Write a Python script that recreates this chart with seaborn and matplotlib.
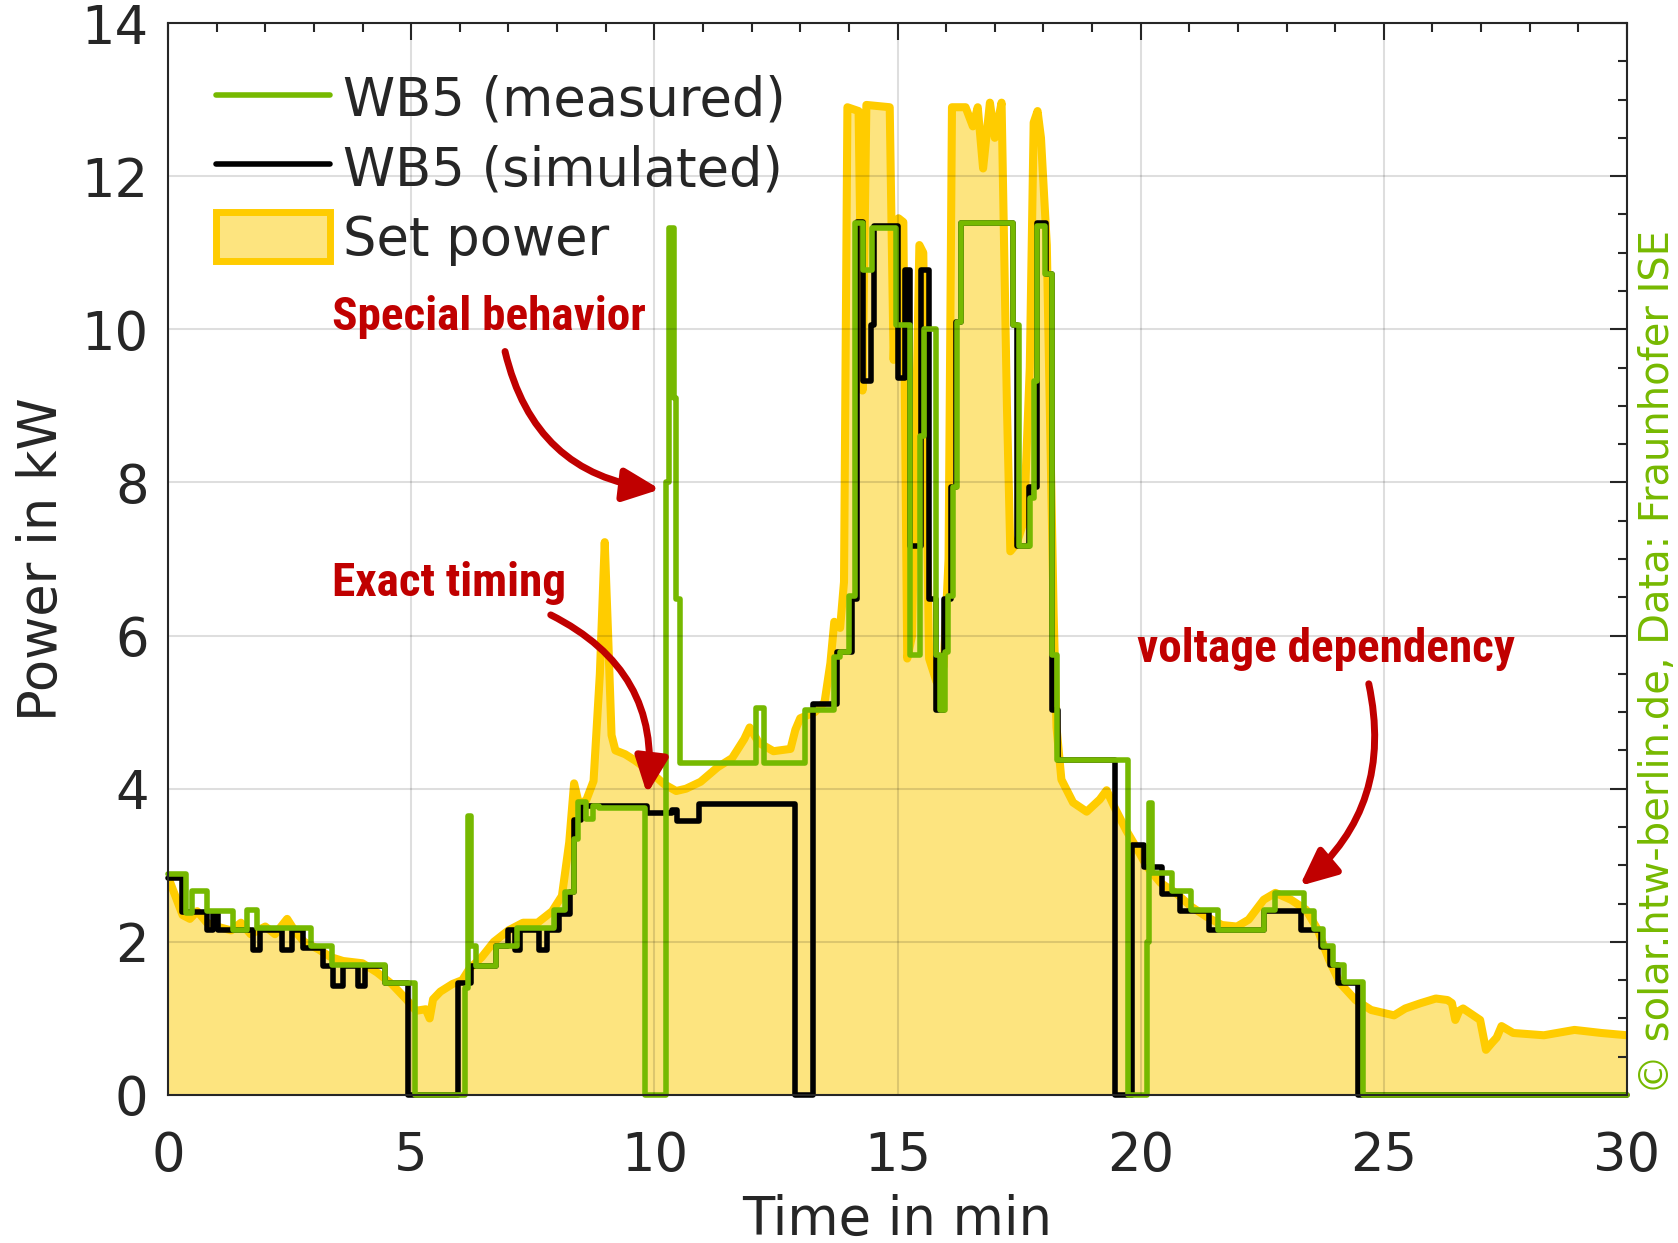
import seaborn as sns
import matplotlib.pyplot as plt
from matplotlib.lines import Line2D
from matplotlib.patches import Patch
from matplotlib.ticker import MultipleLocator

# --- values (time in min, power in kW) ---
# measured charging power, step changes
t_meas = [0.00, 0.38, 0.49, 0.80, 1.34, 1.63, 1.82, 2.95, 3.37, 4.46, 5.08,
          6.11, 6.17, 6.24, 6.34, 6.75, 7.18, 7.93, 8.17, 8.34, 8.44, 8.60,
          8.74, 8.86, 9.81, 10.25, 10.30, 10.40, 10.45, 10.53, 12.10, 12.26,
          13.10, 13.70, 13.82, 14.00, 14.12, 14.30, 14.48, 14.97, 15.25, 15.46,
          15.55, 15.80, 15.88, 15.98, 16.04, 16.14, 16.22, 16.31, 17.38, 17.50,
          17.72, 17.80, 17.86, 18.03, 18.17, 18.27, 19.74, 20.13, 20.18, 20.24,
          20.65, 21.04, 21.59, 22.53, 22.77, 23.36, 23.56, 23.75, 23.95, 24.19,
          24.58, 30.00]
p_meas = [2.89, 2.38, 2.66, 2.40, 2.16, 2.42, 2.18, 1.94, 1.70, 1.46, 0.00,
          1.40, 3.64, 1.94, 1.68, 1.94, 2.18, 2.41, 2.65, 3.34, 3.83, 3.60,
          3.77, 3.75, 0.00, 8.00, 11.32, 9.10, 6.48, 4.34, 5.06, 4.34,
          5.03, 5.72, 5.79, 6.52, 11.39, 10.78, 11.32, 10.05, 5.75, 8.60,
          10.00, 5.75, 5.03, 5.79, 6.52, 7.94, 10.09, 11.39, 10.05, 7.17,
          7.80, 9.32, 11.35, 10.72, 5.75, 4.37, 0.00, 2.00, 3.81, 2.90,
          2.66, 2.41, 2.16, 2.42, 2.64, 2.40, 2.17, 1.94, 1.70, 1.47,
          0.00, 0.00]

# simulated charging power, step changes
t_sim = [0.00, 0.28, 0.80, 0.93, 1.03, 1.75, 1.89, 2.34, 2.54, 2.78, 3.19,
         3.40, 3.60, 3.91, 4.05, 4.46, 4.94, 5.97, 6.24, 6.75, 7.00, 7.14,
         7.24, 7.62, 7.79, 8.05, 8.26, 8.34, 8.50, 9.84, 10.36, 10.46, 10.91,
         12.89, 13.27, 13.75, 14.06, 14.16, 14.30, 14.46, 14.52, 15.00, 15.15,
         15.25, 15.48, 15.64, 15.80, 15.95, 16.10, 16.21, 16.31, 17.38, 17.46,
         17.70, 17.86, 18.05, 18.18, 18.30, 19.47, 19.82, 20.06, 20.44, 20.80,
         21.40, 22.53, 23.30, 23.70, 23.90, 24.05, 24.46, 30.00]
p_sim = [2.84, 2.39, 2.16, 2.39, 2.16, 1.90, 2.16, 1.90, 2.16, 1.92, 1.68,
         1.43, 1.68, 1.43, 1.68, 1.46, 0.00, 1.46, 1.68, 1.94, 2.16, 1.90,
         2.16, 1.90, 2.16, 2.37, 2.65, 3.59, 3.77, 3.68, 3.72, 3.58, 3.80,
         0.00, 5.10, 5.79, 6.48, 11.40, 9.32, 10.05, 11.35, 9.36, 10.78,
         7.17, 10.78, 6.48, 5.03, 6.48, 7.94, 10.09, 11.39, 10.05, 7.17,
         7.94, 11.39, 10.72, 5.03, 4.38, 0.00, 3.27, 2.98, 2.63, 2.40,
         2.16, 2.40, 2.16, 1.93, 1.70, 1.46, 0.00, 0.00]

# set power
t_set = [0.0, 0.15, 0.3, 0.45, 0.6, 0.8, 1.0, 1.3, 1.5, 1.7, 2.0, 2.2, 2.45,
         2.6, 2.8, 3.1, 3.35, 3.6, 4.0, 4.3, 4.6, 4.9, 5.1, 5.3, 5.38, 5.45,
         5.6, 5.85, 6.05, 6.2, 6.45, 6.7, 7.0, 7.3, 7.6, 7.9, 8.1, 8.25, 8.35,
         8.45, 8.6, 8.75, 8.88, 8.98, 9.05, 9.12, 9.2, 9.4, 9.6, 9.9, 10.2,
         10.45, 10.65, 10.95, 11.3, 11.6, 11.85, 11.96, 12.15, 12.45, 12.8,
         12.9, 13.0, 13.3, 13.5, 13.62, 13.7, 13.82, 13.9, 13.97, 14.2, 14.28,
         14.36, 14.84, 14.92, 15.02, 15.12, 15.2, 15.3, 15.45, 15.53, 15.65,
         15.8, 15.95, 16.05, 16.12, 16.4, 16.55, 16.65, 16.76, 16.9, 17.0,
         17.14, 17.25, 17.32, 17.45, 17.6, 17.72, 17.8, 17.88, 17.95, 18.07,
         18.21, 18.27, 18.37, 18.61, 18.89, 19.16, 19.3, 19.46, 19.7, 19.94,
         20.13, 20.41, 20.72, 21.04, 21.35, 21.67, 21.98, 22.22, 22.53, 22.77,
         23.09, 23.4, 23.64, 23.87, 24.1, 24.42, 24.74, 25.21, 25.44, 25.76,
         26.07, 26.31, 26.4, 26.47, 26.55, 26.63, 26.98, 27.1, 27.22, 27.32,
         27.42, 27.66, 28.29, 28.92, 29.47, 30.0]
p_set = [2.85, 2.6, 2.35, 2.3, 2.4, 2.25, 2.2, 2.15, 2.25, 2.1, 2.2, 2.1, 2.3,
         2.15, 2.0, 1.9, 1.8, 1.75, 1.72, 1.6, 1.45, 1.25, 1.1, 1.12, 1.0, 1.25,
         1.35, 1.45, 1.5, 1.65, 1.8, 2.0, 2.15, 2.25, 2.25, 2.4, 2.6, 3.3, 4.07,
         3.8, 3.85, 4.1, 5.5, 7.22, 6.0, 4.7, 4.5, 4.45, 4.37, 4.23, 4.06,
         3.97, 4.0, 4.09, 4.28, 4.4, 4.65, 4.8, 4.6, 4.49, 4.52,
         4.77, 4.92, 5.0, 5.13, 5.64, 6.18, 6.1, 6.7, 12.9, 12.85, 9.2,
         12.93, 12.9, 9.6, 11.45, 11.4, 5.7, 6.0, 11.1, 11.0, 5.7,
         5.4, 5.6, 7.0, 12.9, 12.9, 12.65, 12.9, 12.1, 12.96, 12.5,
         12.96, 9.0, 7.1, 7.2, 7.5, 9.5, 12.7, 12.85, 12.5, 11.1,
         6.3, 4.8, 4.12, 3.82, 3.7, 3.86, 3.98, 3.76, 3.46, 3.2,
         2.98, 2.77, 2.64, 2.46, 2.33, 2.22, 2.2, 2.29, 2.55, 2.64,
         2.55, 2.42, 2.16, 1.77, 1.46, 1.24, 1.11, 1.04, 1.13, 1.2,
         1.26, 1.24, 1.2, 0.98, 1.1, 1.13, 0.98, 0.59, 0.68, 0.75,
         0.9, 0.81, 0.78, 0.85, 0.81, 0.78]

x_ticks = [0, 5, 10, 15, 20, 25, 30]
y_ticks = [0, 2, 4, 6, 8, 10, 12, 14]

green = '#76b900'
yellow = '#ffcc00'
fill = '#fde47f'
red = '#c00000'
dark = '#262626'

sns.set_theme(style='white')
plt.rcParams['font.family'] = ['DejaVu Sans']

fig = plt.figure(figsize=(16.78, 12.43), dpi=100)
ax = fig.add_axes([168 / 1678, 1 - 1095 / 1243, 1459 / 1678, 1072 / 1243])

ax.fill_between(t_set, p_set, color=fill, lw=0, zorder=1)
sns.lineplot(x=t_set, y=p_set, color=yellow, lw=5.8, ax=ax, estimator=None,
             sort=False, zorder=1.2, solid_joinstyle='round', solid_capstyle='round')
sns.lineplot(x=t_sim, y=p_sim, color='black', lw=4, ax=ax, estimator=None,
             sort=False, drawstyle='steps-post', zorder=1.4, clip_on=False)
sns.lineplot(x=t_meas, y=p_meas, color=green, lw=4, ax=ax, estimator=None,
             sort=False, drawstyle='steps-post', zorder=1.6, clip_on=False)

ax.set_xlim(0, 30)
ax.set_ylim(0, 14)
ax.set_xticks(x_ticks)
ax.set_yticks(y_ticks)
ax.xaxis.set_minor_locator(MultipleLocator(1))
ax.yaxis.set_minor_locator(MultipleLocator(0.5))
ax.tick_params(which='both', direction='in', top=True, right=True,
               color=dark, labelcolor=dark, width=1.5)
ax.tick_params(which='major', length=12, labelsize=38)
ax.tick_params(which='minor', length=6.5)
ax.tick_params(axis='x', which='major', pad=25)
ax.tick_params(axis='y', which='major', pad=14)
ax.grid(True, which='major', color='black', alpha=0.13, lw=1.5)
ax.set_axisbelow(False)
for s in ax.spines.values():
    s.set_color(dark)
    s.set_linewidth(1.5)
    s.set_zorder(3)

ax.set_xlabel('Time in min', fontsize=38, color=dark, labelpad=9)
ax.set_ylabel('Power in kW', fontsize=38, color=dark, labelpad=10)

# legend
handles = [Line2D([], [], color=green, lw=4),
           Line2D([], [], color='black', lw=4),
           Patch(facecolor=fill, edgecolor=yellow, lw=5)]
ax.legend(handles, ['WB5 (measured)', 'WB5 (simulated)', 'Set power'],
          loc='upper left', bbox_to_anchor=(0.033, 0.953), frameon=False,
          fontsize=38, handlelength=2.15, handleheight=1.05, handletextpad=0.25,
          labelspacing=0.3, borderpad=0, borderaxespad=0)

# annotations
font_note = dict(color=red, fontsize=34, fontweight='bold',
                 family=['Roboto Condensed', 'Liberation Sans Narrow', 'Roboto'])
arrow = dict(arrowstyle='-|>,head_length=1.1,head_width=0.5', color=red,
             lw=5, mutation_scale=20, shrinkA=0, shrinkB=0)
ax.text(3.37, 10.16, 'Special behavior', ha='left', va='center', **font_note)
ax.annotate('', xy=(10.12, 7.91), xytext=(6.93, 9.71),
            arrowprops=dict(arrow, connectionstyle='arc3,rad=0.35'))
ax.text(3.37, 6.69, 'Exact timing', ha='left', va='center', **font_note)
ax.annotate('', xy=(9.85, 3.93), xytext=(7.87, 6.27),
            arrowprops=dict(arrow, connectionstyle='arc3,rad=-0.35'))
ax.text(23.81, 5.82, 'voltage dependency', ha='center', va='center', **font_note)
ax.annotate('', xy=(23.27, 2.73), xytext=(24.69, 5.37),
            arrowprops=dict(arrow, connectionstyle='arc3,rad=-0.3'))

fig.text(1658 / 1678, 149 / 1243, '© solar.htw-berlin.de, Data: Fraunhofer ISE',
         rotation=90, color=green, fontsize=28.8, ha='center', va='bottom')

fig.savefig('out.png', dpi=100)
